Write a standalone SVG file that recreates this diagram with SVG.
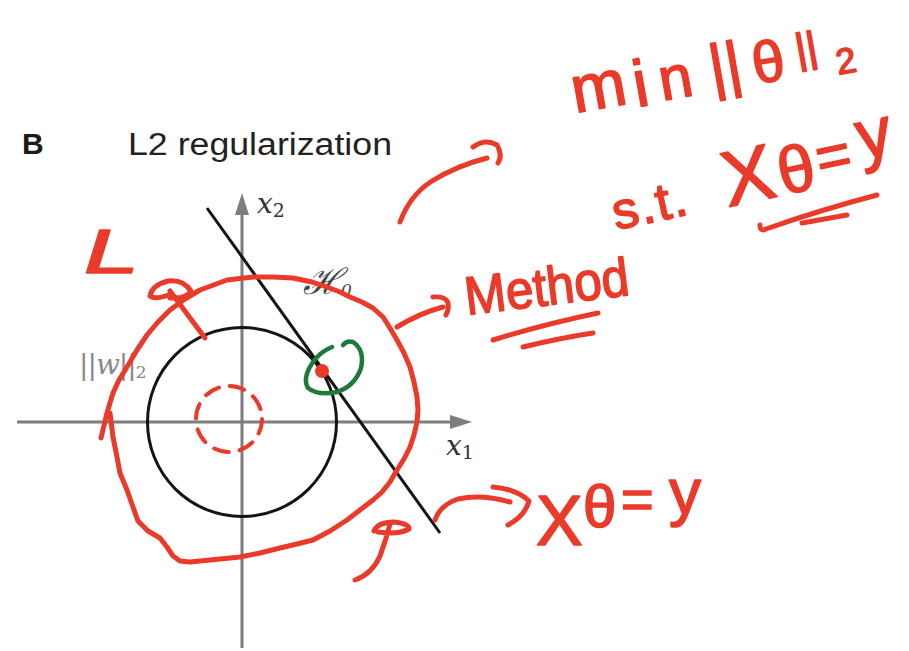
<svg xmlns="http://www.w3.org/2000/svg" width="909" height="651" viewBox="0 0 909 651">
<style>
.axis{stroke:#7d7d7d;stroke-width:3;fill:none}
.ahead{fill:#7d7d7d}
.blk{stroke:#141414;stroke-width:3;fill:none}
.red{stroke:#EA3A2A;stroke-width:5;fill:none;stroke-linecap:round;stroke-linejoin:round}
.grn{stroke:#1E7A3C;stroke-width:4.5;fill:none;stroke-linecap:round;stroke-linejoin:round}
.hw{fill:#EA3A2A;stroke:#EA3A2A;stroke-width:1.6;stroke-linejoin:round;font-family:"Liberation Sans",Arial,sans-serif}
.math{font-family:"DejaVu Serif","Liberation Serif",serif}
</style>
<rect width="909" height="651" fill="#ffffff"/>
<g id="title">
<text x="22" y="154" font-family="Liberation Sans, Arial, sans-serif" font-weight="bold" font-size="30" fill="#1a1a1a">B</text>
<text x="128" y="155" font-family="Liberation Sans, Arial, sans-serif" font-size="31" fill="#222" textLength="264" lengthAdjust="spacingAndGlyphs">L2 regularization</text>
</g>
<g id="axes">
<line class="axis" x1="242" y1="648" x2="242" y2="210"/>
<polygon class="ahead" points="242,193 235,215 249,215"/>
<line class="axis" x1="17" y1="422" x2="455" y2="422"/>
<polygon class="ahead" points="472,422 450,415 450,429"/>
<text class="math" x="257" y="213" font-size="28" font-style="italic" fill="#333">x<tspan font-size="19" font-style="normal" dy="4">2</tspan></text>
<text class="math" x="446" y="455" font-size="28" font-style="italic" fill="#333">x<tspan font-size="19" font-style="normal" dy="4">1</tspan></text>
</g>
<g id="l2-ball">
<circle class="blk" cx="242" cy="422" r="94.5"/>
<text class="math" x="79" y="374" font-size="28" fill="#888" letter-spacing="-1">||<tspan font-style="italic">w</tspan>||<tspan font-size="17" dy="4">2</tspan></text>
</g>
<g id="hyperplane">
<line class="blk" x1="207" y1="208" x2="440" y2="533"/>
<text x="303" y="294" font-family="DejaVu Serif, serif" font-style="italic" font-size="36" fill="#444">ℋ<tspan font-size="17" dy="2">0</tspan></text>
</g>
<g id="annotations">
<path class="red" d="M101,438 L107,413 L113,393 L119,380 L127,367 L137,350 L147,335 L158,322 L170,310 L185,299 L200,290 L227,280 L253,277 L273,277 L293,278 L312,282 L327,287 L340,292 L350,297 L362,302 L373,308 L383,317 L390,328 L397,340 L404,353 L410,367 L414,382 L417,397 L418,410 L417,422 L414,435 L410,447 L404,459 L397,470 L390,482 L382,492 L373,500 L360,510 L347,520 L330,531 L313,540 L297,544 L280,548 L260,553 L240,557 L210,560 L190,562 L180,561 L173,556 L167,547 L160,538 L148,531 L138,521 L133,507 L127,490 L120,473 L117,457 L113,437 L110,413"/>
<circle cx="229" cy="419" r="33" fill="none" stroke="#EA3A2A" stroke-width="4" stroke-dasharray="15 11" stroke-linecap="round"/>
<path class="grn" d="M332,347 Q320,352 313,362 Q302,378 308,388 Q318,396 337,392 Q355,386 361,368 Q365,350 353,342 Q347,340 343,345"/>
<circle cx="322" cy="371" r="7" fill="#EA3A2A"/>
<text class="hw" font-family="Liberation Serif, serif" font-style="italic" font-size="62" transform="translate(84,273) scale(1.6,1)">L</text>
<path class="red" d="M205,338 L170,291 M168,295 Q155,300 150,296 Q152,285 168,281 Q183,279 191,291 Q186,299 170,298"/>
<path class="red" d="M355,580 Q372,574 380,556 Q386,540 390,524 M374,531 Q378,522 394,522 Q410,524 409,529 Q398,535 378,532"/>
<path class="red" d="M400,222 Q410,195 432,181 Q456,166 487,158 M473,147 Q485,138 497,145 Q503,155 498,163"/>
<path class="red" d="M397,327 Q420,313 443,307 M433,297 Q446,296 448,303 Q449,310 446,315"/>
<path class="red" d="M435,520 Q440,505 458,499 Q482,494 510,502 M493,487 Q517,489 529,501 Q525,516 508,525"/>
<text class="hw" font-size="54" transform="translate(467,315) rotate(-7)" textLength="165" lengthAdjust="spacingAndGlyphs">Method</text>
<path class="red" d="M493,340 Q545,324 598,313 M523,347 Q560,338 593,333"/>
<g transform="translate(575,113) rotate(-10)">
<text class="hw" x="0" y="0" font-size="66">m</text>
<text class="hw" x="62" y="5" font-size="66">i</text>
<text class="hw" x="88" y="3" font-size="60">n</text>
<text class="hw" x="140" y="0" font-size="62">||</text>
<text class="hw" x="183" y="3" font-size="58">θ</text>
<text class="hw" x="228" y="-10" font-size="42">||</text>
<text class="hw" x="266" y="8" font-size="36">2</text>
</g>
<text class="hw" font-size="52" transform="translate(616,230) rotate(-12)" letter-spacing="2">s.t.</text>
<g transform="translate(728,207) rotate(-12)">
<text class="hw" x="0" y="0" font-size="78">X</text>
<text class="hw" x="56" y="0" font-size="66">θ</text>
<text class="hw" x="96" y="-8" font-size="60">=</text>
<text class="hw" x="140" y="-18" font-size="70">y</text>
</g>
<path class="red" d="M760,225 Q760,232 766,229 Q820,210 877,195 M802,223 Q825,219 847,215"/>
<text class="hw" x="536" y="545" font-size="70">X</text>
<text class="hw" x="583" y="527" font-size="60">θ</text>
<text class="hw" x="621" y="518" font-size="56">=</text>
<text class="hw" x="669" y="514" font-size="64">y</text>
</g>
</svg>
